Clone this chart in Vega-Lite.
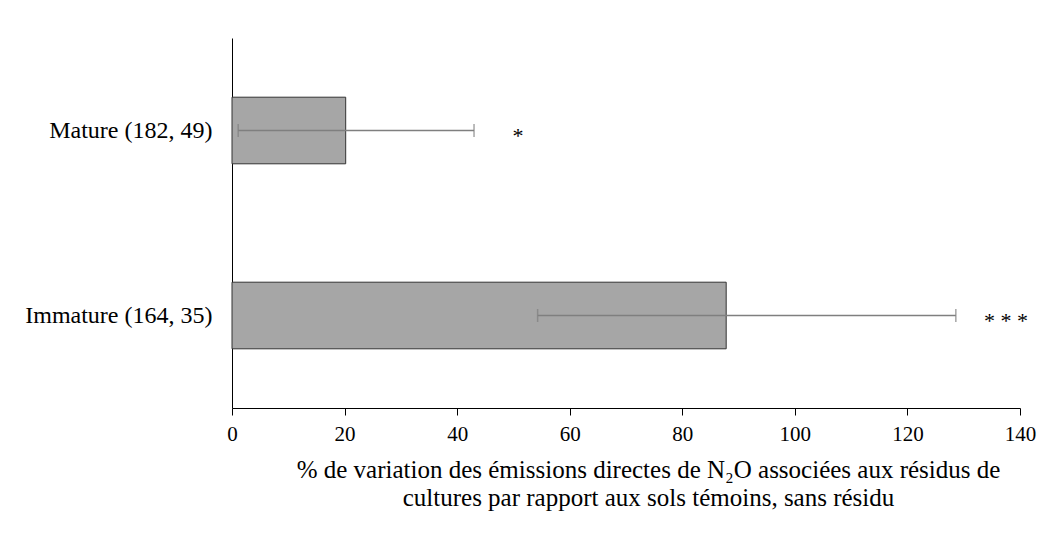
{
  "$schema": "https://vega.github.io/schema/vega-lite/v6.json",
  "width": 788,
  "height": 370,
  "autosize": "none",
  "padding": {"left": 232, "top": 38, "right": 41, "bottom": 143},
  "background": "white",
  "config": {
    "view": {"stroke": null},
    "font": "Liberation Serif",
    "scale": {"bandPaddingInner": 0.64, "bandPaddingOuter": 0.32}
  },
  "data": {
    "values": [
      {"cat": "Mature (182, 49)", "value": 20.2, "lo": 1.1, "hi": 43.0, "sig": "*", "sigx": 50.8},
      {"cat": "Immature (164, 35)", "value": 87.8, "lo": 54.3, "hi": 128.6, "sig": "* * *", "sigx": 137.5}
    ]
  },
  "encoding": {
    "y": {
      "field": "cat", "type": "nominal", "sort": null, "title": null,
      "axis": {
        "domainColor": "#000000", "domainWidth": 1, "ticks": false,
        "labelFontSize": 24, "labelColor": "#000000", "labelPadding": 20,
        "labelFont": "Liberation Serif", "labelLimit": 400
      }
    }
  },
  "layer": [
    {
      "mark": {"type": "bar", "fill": "#a6a6a6", "stroke": "#333333", "strokeWidth": 1},
      "encoding": {
        "x": {
          "field": "value", "type": "quantitative",
          "scale": {"domain": [0, 140]},
          "axis": {
            "values": [0, 20, 40, 60, 80, 100, 120, 140],
            "grid": false, "labelFlush": false,
            "domainColor": "#000000", "tickColor": "#000000", "tickSize": 7,
            "labelFontSize": 21, "labelColor": "#000000", "labelPadding": 8,
            "labelFont": "Liberation Serif",
            "title": ["% de variation des émissions directes de N₂O associées aux résidus de", "cultures par rapport aux sols témoins, sans résidu"],
            "titleFont": "Liberation Serif", "titleFontSize": 25, "titleFontWeight": "normal",
            "titleColor": "#000000", "titlePadding": 13, "titleLineHeight": 28,
            "titleX": 416, "titleAlign": "center"
          }
        }
      }
    },
    {
      "mark": {"type": "rule", "color": "#7f7f7f", "strokeWidth": 1.5},
      "encoding": {
        "x": {"field": "lo", "type": "quantitative"},
        "x2": {"field": "hi"}
      }
    },
    {
      "mark": {"type": "tick", "orient": "vertical", "color": "#7f7f7f", "size": 13, "thickness": 1.5},
      "encoding": {"x": {"field": "lo", "type": "quantitative"}}
    },
    {
      "mark": {"type": "tick", "orient": "vertical", "color": "#7f7f7f", "size": 13, "thickness": 1.5},
      "encoding": {"x": {"field": "hi", "type": "quantitative"}}
    },
    {
      "mark": {"type": "text", "fontSize": 22, "color": "#000000", "baseline": "middle", "dy": 5, "font": "Liberation Serif"},
      "encoding": {
        "x": {"field": "sigx", "type": "quantitative"},
        "text": {"field": "sig"}
      }
    }
  ]
}
